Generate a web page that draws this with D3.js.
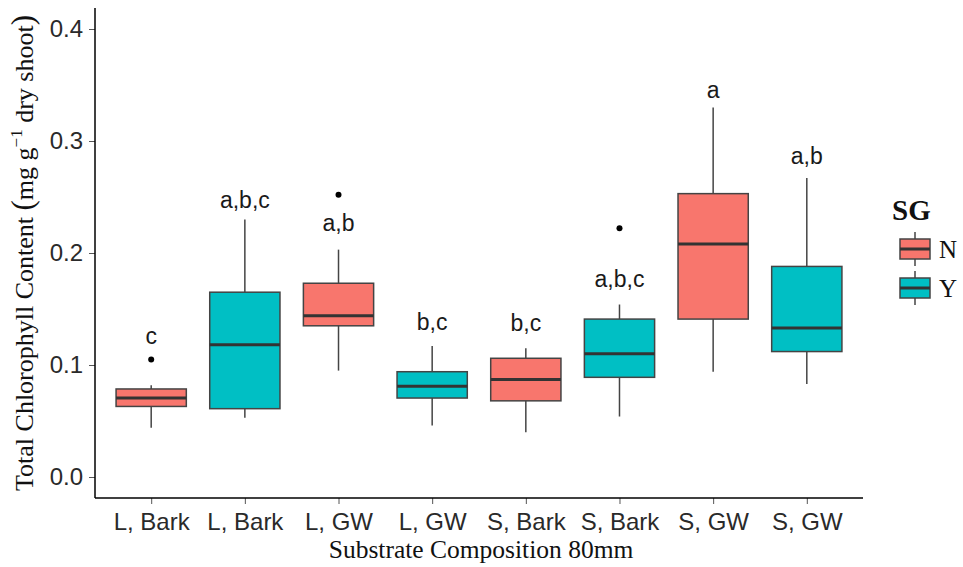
<!DOCTYPE html>
<html>
<head>
<meta charset="utf-8">
<script src="https://cdn.jsdelivr.net/npm/d3@7"></script>
<style>
  body { margin: 0; background: #fff; }
</style>
</head>
<body>
<div id="chart"></div>
<script>
// box stats
const categories = ["L, Bark", "L, Bark", "L, GW", "L, GW", "S, Bark", "S, Bark", "S, GW", "S, GW"];
const groups = ["N", "Y", "N", "Y", "N", "Y", "N", "Y"];
const lowerWhisker = [0.044, 0.053, 0.095, 0.046, 0.040, 0.054, 0.094, 0.083];
const q1 = [0.063, 0.061, 0.135, 0.0705, 0.068, 0.089, 0.141, 0.112];
const median = [0.0705, 0.118, 0.144, 0.081, 0.087, 0.110, 0.208, 0.133];
const q3 = [0.0786, 0.165, 0.173, 0.094, 0.106, 0.141, 0.253, 0.188];
const upperWhisker = [0.082, 0.230, 0.203, 0.117, 0.115, 0.154, 0.330, 0.267];
const outliers = [[0, 0.105], [2, 0.252], [5, 0.222]];
const letters = ["c", "a,b,c", "a,b", "b,c", "b,c", "a,b,c", "a", "a,b"];
const letterY = [0.126, 0.247, 0.227, 0.138, 0.1375, 0.177, 0.346, 0.287];
const yTicks = [0.0, 0.1, 0.2, 0.3, 0.4];
const legendKeys = ["N", "Y"];

const svgWidth = 963;
const svgHeight = 567;
const panel = { left: 95, right: 863, top: 8, bottom: 498 };

const sans = "Liberation Sans, Arial, sans-serif";
const serif = "Liberation Serif, Times New Roman, serif";

const color = d3.scaleOrdinal().domain(["N", "Y"]).range(["#F8766D", "#00BFC4"]);

const svg = d3.select("#chart")
  .append("svg")
  .attr("width", svgWidth)
  .attr("height", svgHeight);

const idx = d3.range(categories.length);

const x = d3.scalePoint()
  .domain(idx)
  .range([panel.left, panel.right])
  .padding(0.6);

const boxW = x.step() * 0.75;

const y = d3.scaleLinear()
  .domain([0, 0.4])
  .range([477, 29]);

// boxes
const boxes = svg.append("g").selectAll("g")
  .data(idx)
  .enter()
  .append("g");

boxes.append("line")
  .attr("x1", i => x(i)).attr("x2", i => x(i))
  .attr("y1", i => y(upperWhisker[i])).attr("y2", i => y(q3[i]))
  .attr("stroke", "#444").attr("stroke-width", 1.5);

boxes.append("line")
  .attr("x1", i => x(i)).attr("x2", i => x(i))
  .attr("y1", i => y(q1[i])).attr("y2", i => y(lowerWhisker[i]))
  .attr("stroke", "#444").attr("stroke-width", 1.5);

boxes.append("rect")
  .attr("x", i => x(i) - boxW / 2)
  .attr("width", boxW)
  .attr("y", i => y(q3[i]))
  .attr("height", i => y(q1[i]) - y(q3[i]))
  .attr("fill", i => color(groups[i]))
  .attr("stroke", "#444")
  .attr("stroke-width", 1.5);

boxes.append("line")
  .attr("x1", i => x(i) - boxW / 2).attr("x2", i => x(i) + boxW / 2)
  .attr("y1", i => y(median[i])).attr("y2", i => y(median[i]))
  .attr("stroke", "#333").attr("stroke-width", 3);

// outliers
svg.append("g").selectAll("circle")
  .data(outliers)
  .enter()
  .append("circle")
  .attr("cx", d => x(d[0]))
  .attr("cy", d => y(d[1]))
  .attr("r", 3)
  .attr("fill", "#000");

// significance letters
svg.append("g").selectAll("text")
  .data(idx)
  .enter()
  .append("text")
  .attr("x", i => x(i))
  .attr("y", i => y(letterY[i]))
  .attr("dy", "0.35em")
  .attr("text-anchor", "middle")
  .attr("font-family", sans)
  .attr("font-size", "23px")
  .attr("fill", "#1a1a1a")
  .text(i => letters[i]);

// axes
const leftAxis = d3.axisLeft(y)
  .tickValues(yTicks)
  .tickFormat(d3.format(".1f"))
  .tickSize(6)
  .tickPadding(6);

const gy = svg.append("g")
  .attr("transform", `translate(${panel.left},0)`)
  .call(leftAxis);

const bottomAxis = d3.axisBottom(x)
  .tickFormat(i => categories[i])
  .tickSize(6)
  .tickPadding(9);

const gx = svg.append("g")
  .attr("transform", `translate(0,${panel.bottom})`)
  .call(bottomAxis);

[gx, gy].forEach(g => {
  g.select(".domain").remove();
  g.selectAll(".tick line").attr("stroke", "#555").attr("stroke-width", 1);
  g.selectAll(".tick text")
    .attr("font-family", sans)
    .attr("font-size", "24px")
    .attr("fill", "#2a2a2a");
});

// axis lines
svg.append("line")
  .attr("x1", panel.left).attr("x2", panel.left)
  .attr("y1", panel.top).attr("y2", panel.bottom)
  .attr("stroke", "#000").attr("stroke-width", 1.5);
svg.append("line")
  .attr("x1", panel.left).attr("x2", panel.right)
  .attr("y1", panel.bottom).attr("y2", panel.bottom)
  .attr("stroke", "#000").attr("stroke-width", 1.5);

// axis titles
svg.append("text")
  .attr("x", (panel.left + panel.right) / 2 + 2)
  .attr("y", 558)
  .attr("text-anchor", "middle")
  .attr("font-family", serif)
  .attr("font-size", "25.5px")
  .attr("fill", "#111")
  .text("Substrate Composition 80mm");

const yTitle = svg.append("text")
  .attr("transform", `translate(33,${(panel.top + panel.bottom) / 2}) rotate(-90)`)
  .attr("text-anchor", "middle")
  .attr("font-family", serif)
  .attr("font-size", "26px")
  .attr("fill", "#111");
yTitle.append("tspan").text("Total Chlorophyll Content ");
yTitle.append("tspan").attr("font-size", "31px").text("(");
yTitle.append("tspan").text("mg g");
yTitle.append("tspan").attr("font-size", "17px").attr("dy", "-11").text("\u22121");
yTitle.append("tspan").attr("dy", "11").text(" dry shoot");
yTitle.append("tspan").attr("font-size", "31px").text(")");

// legend
const legend = svg.append("g");
legend.append("text")
  .attr("x", 892).attr("y", 220)
  .attr("font-family", serif)
  .attr("font-weight", "bold")
  .attr("font-size", "29px")
  .attr("fill", "#111")
  .text("SG");

const keys = legend.selectAll("g.key")
  .data(legendKeys)
  .enter()
  .append("g")
  .attr("class", "key")
  .attr("transform", (d, i) => `translate(915,${249 + i * 39})`);

keys.append("line")
  .attr("y1", -17).attr("y2", 17)
  .attr("stroke", "#444").attr("stroke-width", 1.5);
keys.append("rect")
  .attr("x", -15).attr("y", -10)
  .attr("width", 30).attr("height", 20)
  .attr("fill", d => color(d))
  .attr("stroke", "#444").attr("stroke-width", 1.5);
keys.append("line")
  .attr("x1", -15).attr("x2", 15)
  .attr("stroke", "#333").attr("stroke-width", 3);
keys.append("text")
  .attr("x", 24).attr("dy", "0.35em")
  .attr("font-family", serif)
  .attr("font-size", "25px")
  .attr("fill", "#111")
  .text(d => d);
</script>
</body>
</html>
